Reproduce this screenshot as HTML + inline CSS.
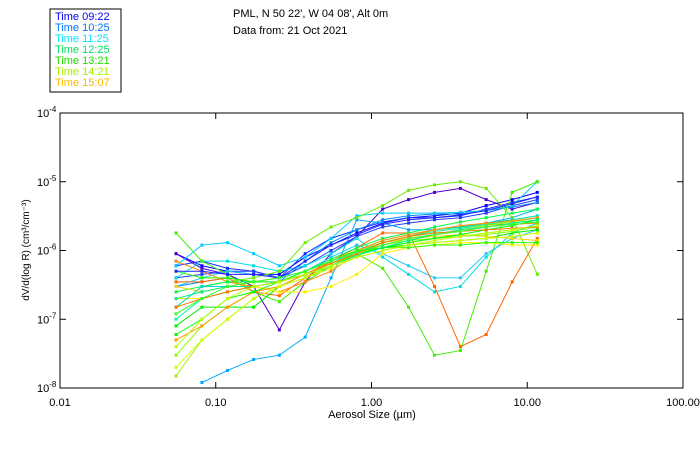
<!DOCTYPE html>
<html><head><meta charset="utf-8"><style>
body{margin:0;background:#fff;width:700px;height:450px;overflow:hidden;font-family:"Liberation Sans",sans-serif}
svg text{font-family:"Liberation Sans",sans-serif;font-size:11px}
</style></head><body>
<svg id="chart" width="700" height="450" xmlns="http://www.w3.org/2000/svg">
<g>
<rect x="50" y="9" width="71" height="83" fill="#fff" stroke="#000" stroke-width="1"/>
<text x="55" y="20" fill="#0000ff">Time 09:22</text>
<text x="55" y="31" fill="#0077ff">Time 10:25</text>
<text x="55" y="42" fill="#00e5ff">Time 11:25</text>
<text x="55" y="53" fill="#00e060">Time 12:25</text>
<text x="55" y="64" fill="#22dd00">Time 13:21</text>
<text x="55" y="75" fill="#aaee00">Time 14:21</text>
<text x="55" y="86" fill="#ffbb00">Time 15:07</text>
</g>
<text x="233" y="17">PML, N 50 22', W 04 08', Alt 0m</text>
<text x="233" y="34">Data from: 21 Oct 2021</text>
<g id="marks"></g>
<rect x="60" y="113" width="623" height="275" fill="none" stroke="#000" stroke-width="1"/>
<g id="axes"></g>
<text x="372" y="418" text-anchor="middle">Aerosol Size (µm)</text>
<text transform="translate(29,250) rotate(-90)" text-anchor="middle" style="font-size:10px">dV/d(log R) (cm³/cm⁻³)</text>
</svg>
<script>
const sizes=[0.0556,0.0815,0.119,0.175,0.256,0.375,0.55,0.805,1.18,1.73,2.54,3.72,5.45,8.0,11.6];
const xTicks=[0.01,0.1,1,10,100];
const xTickLabels=["0.01","0.10","1.00","10.00","100.00"];
const yTicks=[1e-8,1e-7,1e-6,1e-5,1e-4];
const yTickExps=["-8","-7","-6","-5","-4"];
const seriesColors=["#0000ff","#1030ff","#5000cc","#2040ff","#0088ff","#00ccff","#00aaff","#00dddd","#22ccff","#44ee00","#66ee00","#ff6600","#ff8800","#00ff44","#00ee00","#aaee00","#ffee00","#ffcc00","#00ff99","#00ddcc","#88ff00","#ff9900","#22ff00","#ccff00","#2222ff","#00ff00","#00ee88","#ff7700","#bbff00","#33ff33"];
// values in units of 1e-6
const s1=[0.9,0.6,0.5,0.45,0.45,0.8,1.2,1.8,2.5,3,3.2,3.5,4.5,5.5,7];
const s2=[0.6,0.7,0.55,0.5,0.4,0.9,1.5,2,2.6,3,3,3.2,4,5,6];
const s3=[0.9,0.55,0.45,0.3,0.07,0.35,0.9,1.6,4,5.5,7,8,5.5,4,5];
const s4=[0.4,0.45,0.5,0.5,0.4,0.6,1.0,1.6,2.2,2.5,2.8,3.0,3.5,4.5,5.5];
const s5=[0.3,0.35,0.4,0.35,0.35,0.7,1.3,2,2.8,3.2,3.4,3.4,3.8,4.3,5];
const s6=[0.6,1.2,1.3,0.9,0.6,0.8,1.5,3.2,3.5,3.5,3.5,3.6,3.8,4.5,10];
const s7=[null,0.012,0.018,0.026,0.03,0.055,0.4,2.8,2.5,2,2,2.2,2.5,3,4];
const s8=[0.4,0.7,0.7,0.6,0.5,0.6,0.9,1.5,0.8,0.45,0.25,0.3,0.8,1.8,2.5];
const s9=[0.3,0.4,0.5,0.45,0.4,0.5,0.8,1.2,0.9,0.6,0.4,0.4,0.9,1.5,2];
const s10=[1.8,0.7,0.45,0.25,0.18,0.35,0.6,0.9,0.55,0.15,0.03,0.035,0.5,7,10];
const s11=[0.15,0.3,0.35,0.4,0.5,1.3,2.2,3,4.5,7.5,9,10,8,3,0.45];
const s12=[0.35,0.35,0.4,0.25,0.22,0.4,0.7,1.1,1.8,1.8,0.3,0.04,0.06,0.35,1.5];
const s13=[0.7,0.5,0.35,0.3,0.25,0.35,0.5,0.9,1.3,1.6,2,2.2,2.4,2.4,2.5];
const s14=[0.25,0.3,0.35,0.35,0.4,0.5,0.75,1.1,1.5,1.8,2.2,2.6,3,3.5,4];
const s15=[0.08,0.15,0.15,0.15,0.3,0.45,0.6,0.9,1.1,1.2,1.3,1.4,1.5,1.8,2];
const s16=[0.015,0.05,0.1,0.2,0.3,0.45,0.65,0.9,1.2,1.5,1.7,2,2.3,2.6,3];
const s17=[0.2,0.2,0.25,0.3,0.25,0.25,0.3,0.45,0.9,1.1,1.2,1.3,1.3,1.2,1.2];
const s18=[0.3,0.25,0.3,0.35,0.4,0.5,0.7,1,1.3,1.5,1.6,1.7,1.6,1.5,1.4];
const s19=[0.1,0.2,0.25,0.3,0.35,0.45,0.65,0.95,1.3,1.6,1.9,2.1,2.4,2.7,3];
const s20=[0.15,0.3,0.3,0.3,0.35,0.5,0.7,1,1.4,1.7,2,2.2,2.5,2.8,3.2];
const s21=[0.03,0.08,0.15,0.25,0.3,0.4,0.6,0.9,1.2,1.4,1.5,1.6,1.7,1.9,2.2];
const s22=[0.05,0.08,0.15,0.25,0.3,0.45,0.7,1,1.4,1.7,2,2.3,2.5,2.7,3];
const s23=[0.5,0.4,0.4,0.35,0.35,0.5,0.7,1,1.1,1.1,1.2,1.2,1.3,1.3,1.3];
const s24=[0.02,0.05,0.1,0.2,0.3,0.4,0.55,0.8,1,1.2,1.3,1.4,1.5,1.6,1.8];
const s25=[0.5,0.5,0.45,0.45,0.4,0.7,1.2,1.7,2.4,2.8,3,3.3,3.8,4.8,6];
const s26=[0.06,0.1,0.2,0.25,0.35,0.45,0.6,0.85,1.1,1.3,1.5,1.7,2,2.3,2.8];
const s27=[0.2,0.25,0.3,0.3,0.35,0.45,0.6,0.85,1.1,1.4,1.7,2,2.2,2.5,2.8];
const s28=[0.15,0.2,0.25,0.3,0.35,0.45,0.65,0.9,1.3,1.6,1.8,1.9,2,2.1,2.2];
const s29=[0.04,0.1,0.2,0.3,0.35,0.45,0.6,0.8,1.0,1.2,1.4,1.6,1.8,2.0,2.3];
const s30=[0.12,0.2,0.3,0.35,0.4,0.5,0.7,0.95,1.2,1.5,1.7,1.9,2.2,2.4,2.6];
const allSeries=[s1,s2,s3,s4,s5,s6,s7,s8,s9,s10,s11,s12,s13,s14,s15,s16,s17,s18,s19,s20,s21,s22,s23,s24,s25,s26,s27,s28,s29,s30];
const X0=60,X1=683,Y0=388,Y1=113;
function xs(d){return X0+(Math.log10(d)+2)/4*(X1-X0);}
function ys(v){return Y0-(Math.log10(v)+8)/4*(Y0-Y1);}
const NS="http://www.w3.org/2000/svg";
const marks=document.getElementById('marks');
const axes=document.getElementById('axes');
function mk(t,a,p){const e=document.createElementNS(NS,t);for(const k in a)e.setAttribute(k,a[k]);p.appendChild(e);return e;}
allSeries.forEach((s,i)=>{
  const g=mk('g',{},marks);
  
  
  const c=seriesColors[i%seriesColors.length];
  const pts=[];
  s.forEach((v,j)=>{if(v!=null)pts.push([xs(sizes[j]),ys(v*1e-6)]);});
  const pl=mk('polyline',{points:pts.map(p=>p.join(',')).join(' '),fill:'none',stroke:c,'stroke-width':1},g);
  
  
  pts.forEach(p=>{
    const r=mk('rect',{x:p[0]-1.5,y:p[1]-1.5,width:3,height:3,fill:c},g);
    
    
  });
});
xTicks.forEach((t,i)=>{
  const x=xs(t);
  if(i>0&&i<xTicks.length-1){
    mk('line',{x1:x,x2:x,y1:Y0,y2:Y0-6,stroke:'#000'},axes);
    mk('line',{x1:x,x2:x,y1:Y1,y2:Y1+6,stroke:'#000'},axes);
  }
  const tx=mk('text',{x:x,y:Y0+18,'text-anchor':'middle'},axes);
  tx.textContent=xTickLabels[i];
  
  
});
yTicks.forEach((t,i)=>{
  const y=ys(t);
  if(i>0&&i<yTicks.length-1){
    mk('line',{x1:X0,x2:X0+6,y1:y,y2:y,stroke:'#000'},axes);
    mk('line',{x1:X1,x2:X1-6,y1:y,y2:y,stroke:'#000'},axes);
  }
  const tx=mk('text',{x:X0-23,y:y+4},axes);
  
  
  const a=mk('tspan',{},tx);a.textContent='10';
  const b=mk('tspan',{dy:-5,'font-size':8},tx);b.textContent=yTickExps[i];
});
</script>
</body></html>
